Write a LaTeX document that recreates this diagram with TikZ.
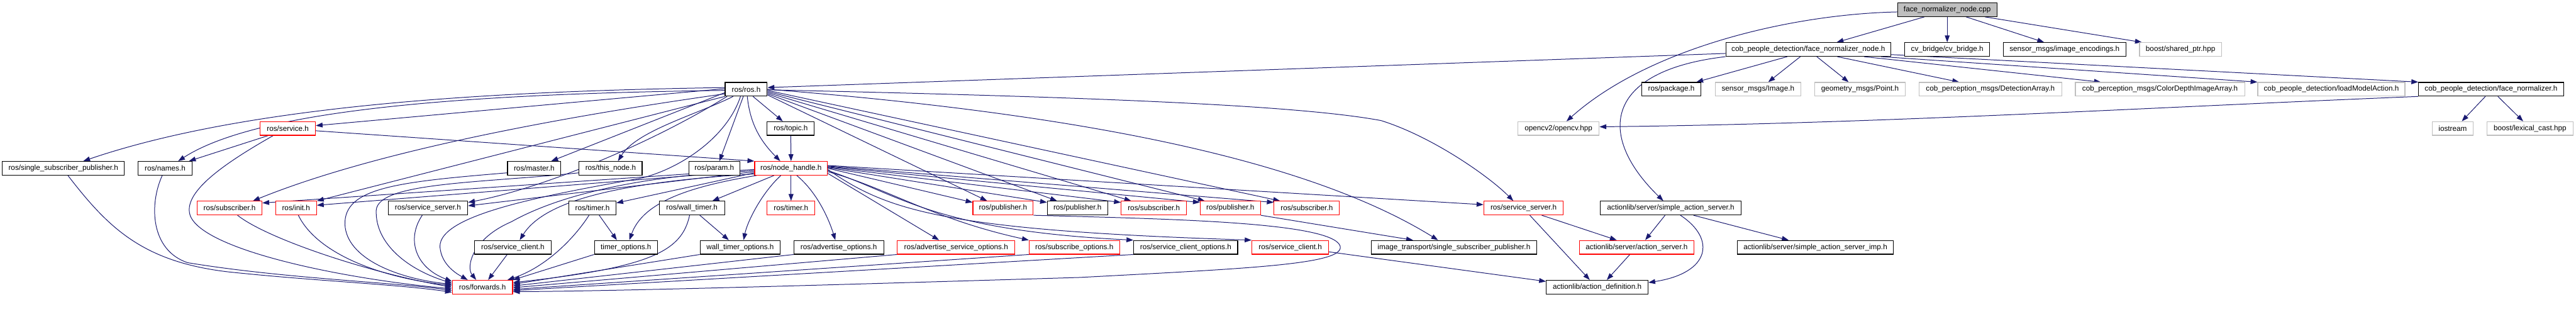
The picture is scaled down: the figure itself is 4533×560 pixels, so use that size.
\documentclass[tikz,border=0pt]{standalone}
\usepackage{fontspec}
\setmainfont{Liberation Sans}
\usetikzlibrary{arrows.meta}
\definecolor{edgec}{RGB}{25,25,112}
\definecolor{grayb}{RGB}{191,191,191}
\pgfdeclarelayer{bg}
\pgfsetlayers{bg,main}
\tikzset{
 nbox/.style={draw=black, line width=1.3pt, minimum height=24pt, inner sep=0pt, fill=white, font=\fontsize{13}{15}\selectfont},
 redbox/.style={nbox, draw=red},
 graybox/.style={nbox, draw=grayb},
 rootbox/.style={nbox, fill=grayb},
 edg/.style={draw=edgec, line width=1.1pt, -{Triangle[length=12pt,width=8.5pt]}},
}
\begin{document}
\begin{tikzpicture}[x=1pt,y=-1pt]
\useasboundingbox (0,0) rectangle (4533,560);
% row 0
\node[rootbox, minimum width=175pt] (root) at (3426.5,17) {face\_normalizer\_node.cpp};
% row 1
\node[nbox, minimum width=290pt] (fnh) at (3182,87) {cob\_people\_detection/face\_normalizer\_node.h};
\node[nbox, minimum width=149pt] (cvb) at (3426.5,87) {cv\_bridge/cv\_bridge.h};
\node[nbox, minimum width=216pt] (enc) at (3633,87) {sensor\_msgs/image\_encodings.h};
\node[graybox, minimum width=144pt] (shp) at (3837,87) {boost/shared\_ptr.hpp};
% row 2
\node[nbox, minimum width=74pt] (rosh) at (1313,157) {ros/ros.h};
\node[nbox, minimum width=104pt] (pkg) at (2941,157) {ros/package.h};
\node[graybox, minimum width=151pt] (img) at (3093.5,157) {sensor\_msgs/Image.h};
\node[graybox, minimum width=160pt] (pt) at (3273,157) {geometry\_msgs/Point.h};
\node[graybox, minimum width=251pt] (det) at (3502.5,157) {cob\_perception\_msgs/DetectionArray.h};
\node[graybox, minimum width=298pt] (cdi) at (3801,157) {cob\_perception\_msgs/ColorDepthImageArray.h};
\node[graybox, minimum width=259pt] (lma) at (4102.5,157) {cob\_people\_detection/loadModelAction.h};
\node[nbox, minimum width=255pt] (fn) at (4383.5,157) {cob\_people\_detection/face\_normalizer.h};
% row 3
\node[redbox, minimum width=97pt] (srv) at (506.5,226) {ros/service.h};
\node[nbox, minimum width=83pt] (topic) at (1391.5,226) {ros/topic.h};
\node[graybox, minimum width=143pt] (cv) at (2742.5,226) {opencv2/opencv.hpp};
\node[graybox, minimum width=72pt] (ios) at (4316,226) {iostream};
\node[graybox, minimum width=152pt] (lex) at (4452,226) {boost/lexical\_cast.hpp};
% row 4
\node[nbox, minimum width=215pt] (ssp) at (111.5,296) {ros/single\_subscriber\_publisher.h};
\node[nbox, minimum width=95pt] (names) at (290.5,296) {ros/names.h};
\node[nbox, minimum width=94pt] (master) at (940,296) {ros/master.h};
\node[nbox, minimum width=111pt] (thisnode) at (1074.5,296) {ros/this\_node.h};
\node[nbox, minimum width=90pt] (param) at (1257,296) {ros/param.h};
\node[redbox, minimum width=128pt] (nh) at (1392,296) {ros/node\_handle.h};
% row 5
\node[redbox, minimum width=114pt] (sub1) at (404,366) {ros/subscriber.h};
\node[redbox, minimum width=72pt] (init) at (521,366) {ros/init.h};
\node[nbox, minimum width=140pt] (ss1) at (753,366) {ros/service\_server.h};
\node[nbox, minimum width=83pt] (timer1) at (1042.5,366) {ros/timer.h};
\node[nbox, minimum width=115pt] (wtimer) at (1217.5,366) {ros/wall\_timer.h};
\node[redbox, minimum width=84pt] (timer2) at (1392,366) {ros/timer.h};
\node[redbox, minimum width=106pt] (pub1) at (1765,366) {ros/publisher.h};
\node[nbox, minimum width=106pt] (pub2) at (1896,366) {ros/publisher.h};
\node[redbox, minimum width=115pt] (sub2) at (2030.5,366) {ros/subscriber.h};
\node[redbox, minimum width=106pt] (pub3) at (2165,366) {ros/publisher.h};
\node[redbox, minimum width=115pt] (sub3) at (2299.5,366) {ros/subscriber.h};
\node[redbox, minimum width=140pt] (ss2) at (2681,366) {ros/service\_server.h};
\node[nbox, minimum width=248pt] (sas) at (2940,366) {actionlib/server/simple\_action\_server.h};
% row 6
\node[nbox, minimum width=135pt] (sc1) at (902.5,435) {ros/service\_client.h};
\node[nbox, minimum width=111pt] (topt) at (1101.5,435) {timer\_options.h};
\node[nbox, minimum width=141pt] (wtopt) at (1302.5,435) {wall\_timer\_options.h};
\node[nbox, minimum width=158pt] (aopt) at (1476,435) {ros/advertise\_options.h};
\node[redbox, minimum width=207pt] (asopt) at (1682.5,435) {ros/advertise\_service\_options.h};
\node[redbox, minimum width=159pt] (subopt) at (1890.5,435) {ros/subscribe\_options.h};
\node[nbox, minimum width=183pt] (scopt) at (2086.5,435) {ros/service\_client\_options.h};
\node[redbox, minimum width=135pt] (sc2) at (2270.5,435) {ros/service\_client.h};
\node[nbox, minimum width=291pt] (itssp) at (2558.5,435) {image\_transport/single\_subscriber\_publisher.h};
\node[redbox, minimum width=202pt] (as) at (2880,435) {actionlib/server/action\_server.h};
\node[nbox, minimum width=275pt] (sasi) at (3194.5,435) {actionlib/server/simple\_action\_server\_imp.h};
% row 7
\node[redbox, minimum width=106pt] (fwd) at (849,505) {ros/forwards.h};
\node[nbox, minimum width=179pt] (adef) at (2810.5,505) {actionlib/action\_definition.h};

\begin{pgfonlayer}{bg}
% root
\draw[edg] ([xshift=-40]root.south) -- ([xshift=50]fnh.north);
\draw[edg] (root.south) -- (cvb.north);
\draw[edg] ([xshift=33]root.south) -- ([xshift=-36]enc.north);
\draw[edg] ([xshift=66]root.south) -- ([xshift=-68]shp.north);
\draw[edg] ([yshift=-4]root.west) .. controls (3150,25) and (2900,85) .. ([xshift=14]cv.north);
% face_normalizer_node.h
\draw[edg] ([yshift=-7]fnh.west) -- ([yshift=3]rosh.east);
\draw[edg] ([xshift=-37]fnh.south) -- ([xshift=44]pkg.north);
\draw[edg] ([xshift=-14]fnh.south) -- ([xshift=18]img.north);
\draw[edg] ([xshift=15]fnh.south) -- ([xshift=-20]pt.north);
\draw[edg] ([xshift=51]fnh.south) -- ([xshift=-55]det.north);
\draw[edg] ([xshift=98]fnh.south) -- ([xshift=-104]cdi.north);
\draw[edg] ([xshift=128]fnh.south) -- (lma.north west);
\draw[edg] ([yshift=-9]fnh.east) -- (fn.north west);
\draw[edg] (fnh.south west) .. controls (2820,125) and (2810,240) .. ([xshift=-13]sas.north);
% face_normalizer.h
\draw[edg] ([xshift=-10]fn.south) -- ([xshift=16]ios.north);
\draw[edg] ([xshift=12]fn.south) -- ([xshift=-12]lex.north);
\draw[edg] (fn.south west) .. controls (3800,188) and (3300,218) .. ([yshift=3]cv.east);
% actionlib
\draw[edg] ([xshift=-10]sas.south) -- ([xshift=15]as.north);
\draw[edg] ([xshift=17]sas.south) .. controls (3020,420) and (3010,480) .. ([yshift=8]adef.east);
\draw[edg] ([xshift=40]sas.south) -- ([xshift=-47]sasi.north);
\draw[edg] ([xshift=32]ss2.south) -- ([xshift=-35]as.north);
\draw[edg] ([xshift=11]ss2.south) -- ([xshift=-13]adef.north);
\draw[edg] ([xshift=-12]as.south) -- ([xshift=17]adef.north);
\draw[edg] ([yshift=-8]sc2.east) -- ([yshift=10]adef.west);
% ros.h downwards
\draw[edg] ([xshift=12]rosh.south) -- ([xshift=-14]topic.north);
\draw[edg] ([xshift=2]rosh.south) .. controls (1320,220) and (1340,250) .. ([xshift=-19]nh.north);
\draw[edg] ([xshift=-5]rosh.south) -- ([xshift=9]param.north);
\draw[edg] (topic.south) -- (nh.north);
% ros.h to the left
\draw[edg] ([yshift=-6]rosh.west) -- ([xshift=30]master.north);
\draw[edg] ([xshift=-23]rosh.south) .. controls (1230,200) and (1120,230) .. ([xshift=13]thisnode.north);
\draw[edg] ([yshift=1]rosh.west) -- ([yshift=5]srv.east);
\draw[edg] ([yshift=-2]rosh.west) .. controls (800,165) and (450,195) .. ([xshift=23]names.north);
\draw[edg] ([yshift=3]rosh.west) .. controls (900,160) and (450,180) .. ([xshift=35]ssp.north);
\draw[edg] ([yshift=-8]rosh.west) .. controls (1100,190) and (700,250) .. ([xshift=41]sub1.north);
\draw[edg] (rosh.south west) -- (init.north east);
\draw[edg] ([xshift=4]rosh.south west) .. controls (1150,250) and (960,330) .. ([yshift=10]ss1.east);
\draw[edg] ([xshift=-10]rosh.south) .. controls (1280,240) and (1200,295) .. (1130,313) .. controls (950,345) and (760,380) .. (775,440) .. controls (780,470) and (810,485) .. ([xshift=-26]fwd.north);
% ros.h to the right
\draw[edg] ([yshift=-10]rosh.east) -- ([xshift=-28]pub1.north);
\draw[edg] ([yshift=-8]rosh.east) -- ([xshift=-36]pub2.north);
\draw[edg] ([yshift=-6]rosh.east) -- ([xshift=-40]sub2.north);
\draw[edg] ([yshift=-4]rosh.east) -- ([xshift=-45]pub3.north);
\draw[edg] ([yshift=-2]rosh.east) -- ([xshift=-47]sub3.north);
\draw[edg] ([yshift=0]rosh.east) .. controls (1900,200) and (2300,280) .. ([xshift=-28]itssp.north);
\draw[edg] ([yshift=-1]rosh.east) .. controls (2000,172) and (2300,188) .. (2430,212) .. controls (2520,240) and (2620,310) .. ([xshift=-18]ss2.north);
% service.h
\draw[edg] ([yshift=-4]srv.east) -- (nh.north west);
\draw[edg] ([xshift=-35]srv.south) -- ([xshift=42]names.north);
\draw[edg] ([xshift=-26]srv.south) .. controls (390,290) and (320,340) .. (335,380) .. controls (360,440) and (600,490) .. ([yshift=-3]fwd.west);
% node_handle.h to the left
\draw[edg] ([yshift=-2]nh.west) -- ([yshift=9]sub1.east);
\draw[edg] ([yshift=-4]nh.west) -- ([yshift=5]init.east);
\draw[edg] ([yshift=-6]nh.west) -- ([yshift=4]ss1.east);
\draw[edg] ([yshift=-8]nh.west) -- ([yshift=9]timer1.east);
\draw[edg] ([yshift=-10]nh.west) .. controls (1100,320) and (960,350) .. ([xshift=12]sc1.north);
\draw[edg] ([xshift=4]nh.south west) .. controls (1200,330) and (1130,360) .. ([xshift=6]topt.north);
% node_handle.h downwards
\draw[edg] ([xshift=-30]nh.south) -- ([xshift=36]wtimer.north);
\draw[edg] ([xshift=-18]nh.south) .. controls (1340,340) and (1315,390) .. ([xshift=6]wtopt.north);
\draw[edg] (nh.south) -- (timer2.north);
\draw[edg] ([xshift=10]nh.south) .. controls (1440,340) and (1460,390) .. ([xshift=-6]aopt.north);
% node_handle.h to the right
\draw[edg] ([yshift=-9]nh.east) -- ([xshift=-30]asopt.north);
\draw[edg] ([yshift=-6]nh.east) .. controls (1560,330) and (1640,385) .. (subopt.north west);
\draw[edg] ([yshift=-4]nh.east) .. controls (1580,340) and (1640,405) .. (scopt.north west);
\draw[edg] ([yshift=-2]nh.east) .. controls (1560,370) and (1660,405) .. (sc2.north west);
\draw[edg] ([yshift=0]nh.east) -- ([yshift=10]pub1.west);
\draw[edg] ([yshift=1]nh.east) -- ([yshift=10]pub2.west);
\draw[edg] ([yshift=2]nh.east) -- ([yshift=10]sub2.west);
\draw[edg] ([yshift=3]nh.east) -- ([yshift=10]pub3.west);
\draw[edg] ([yshift=4]nh.east) -- ([yshift=10]sub3.west);
\draw[edg] ([yshift=5]nh.east) -- ([yshift=6]ss2.west);
% timers
\draw[edg] ([xshift=12]timer1.south) -- ([xshift=-16]topt.north);
\draw[edg] ([xshift=14]wtimer.south) -- ([xshift=-20]wtopt.north);
% publisher -> image_transport
\draw[edg] (pub3.south east) -- ([xshift=-72]itssp.north);
% into forwards.h
\draw[edg] ([xshift=8]ssp.south) .. controls (190,400) and (250,460) .. (400,478) .. controls (550,494) and (700,500) .. ([yshift=-9]fwd.west);
\draw[edg] ([xshift=-5]names.south) .. controls (262,360) and (265,440) .. (330,462) .. controls (500,490) and (700,497) .. ([yshift=-6]fwd.west);
\draw[edg] ([xshift=14]sub1.south) .. controls (470,420) and (650,480) .. ([yshift=0]fwd.west);
\draw[edg] ([xshift=4]init.south) .. controls (560,450) and (680,490) .. ([yshift=3]fwd.west);
\draw[edg] ([yshift=-8]master.west) .. controls (700,320) and (605,330) .. (607,395) .. controls (610,455) and (700,490) .. ([yshift=5]fwd.west);
\draw[edg] ([yshift=-8]thisnode.west) .. controls (850,322) and (665,320) .. (662,370) .. controls (660,430) and (720,475) .. ([yshift=7]fwd.west);
\draw[edg] ([xshift=-10]ss1.south) .. controls (715,420) and (730,470) .. ([yshift=10]fwd.west);
\draw[edg] (param.south west) .. controls (1100,320) and (980,345) .. (900,390) .. controls (830,420) and (820,470) .. ([xshift=-11]fwd.north);
\draw[edg] ([xshift=-10]sc1.south) -- ([xshift=10]fwd.north);
\draw[edg] ([xshift=-6]timer1.south) .. controls (1010,420) and (960,470) .. ([xshift=44]fwd.north);
\draw[edg] (topt.south west) -- (fwd.north east);
\draw[edg] ([xshift=-4]wtimer.south) .. controls (1200,440) and (1150,470) .. ([yshift=8]fwd.east);
\draw[edg] (wtopt.south west) -- ([yshift=5]fwd.east);
\draw[edg] (aopt.south west) -- ([yshift=2]fwd.east);
\draw[edg] (asopt.south west) -- ([yshift=-1]fwd.east);
\draw[edg] (subopt.south west) -- ([yshift=-4]fwd.east);
\draw[edg] (scopt.south west) -- ([yshift=-6]fwd.east);
\draw[edg] (pub1.south east) .. controls (2050,385) and (2340,390) .. (2358,432) .. controls (2370,465) and (2200,472) .. (1900,488) .. controls (1500,500) and (1100,512) .. ([yshift=-8]fwd.east);
\end{pgfonlayer}
\end{tikzpicture}
\end{document}
